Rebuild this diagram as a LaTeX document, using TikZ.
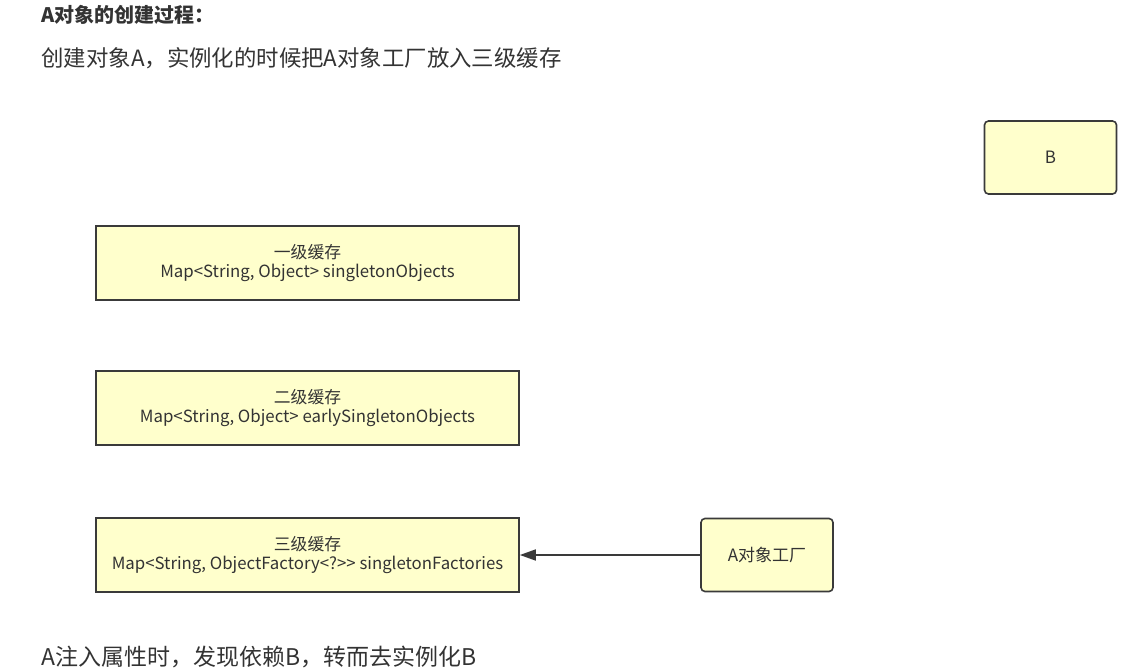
\documentclass[tikz,border=0pt]{standalone}
\usepackage{fontspec}
\setmainfont{Noto Sans CJK SC}
\usetikzlibrary{arrows.meta, positioning}
\definecolor{boxfill}{HTML}{FFFFCC}
\definecolor{boxline}{HTML}{3A3A3A}
\definecolor{txt}{HTML}{333333}
\begin{document}
\begin{tikzpicture}[x=1pt, y=-1pt, >={Triangle[length=16pt, width=11pt]},
  cache/.style={rectangle, draw=boxline, fill=boxfill, line width=1.6pt,
    minimum width=423pt, minimum height=74pt, align=center,
    font=\fontsize{16.8}{18}\selectfont, text=txt},
  obj/.style={rectangle, rounded corners=4pt, draw=boxline, fill=boxfill,
    line width=1.6pt, minimum width=132pt, minimum height=73pt,
    font=\fontsize{17}{18}\selectfont, text=txt},
  line/.style={anchor=west, text=txt, font=\fontsize{22.4}{26}\selectfont}]
  \useasboundingbox (0,0) rectangle (1130,669);

  % texts
  \node[line, font=\fontsize{20}{22}\selectfont\bfseries] (title) at (38,15) {A对象的创建过程：};
  \node[line] (step1) at (38,58) {创建对象A，实例化的时候把A对象工厂放入三级缓存};
  \node[line, font=\fontsize{23}{26}\selectfont] (step2) at (38,657) {A注入属性时，发现依赖B，转而去实例化B};

  % caches
  \node[cache] (l1) at (307.5,263) {{\strut}一级缓存\\Map<String, Object> singletonObjects};
  \node[cache] (l2) at (307.5,408) {{\strut}二级缓存\\Map<String, Object> earlySingletonObjects};
  \node[cache] (l3) at (307.5,555) {{\strut}三级缓存\\Map<String, ObjectFactory<?{>}{>} singletonFactories};

  % objects
  \node[obj] (fac) at (767,555) {A对象工厂};
  \node[obj] (b) at (1050.5,157.5) {B};

  \draw[->, line width=1.6pt, draw=boxline] (fac.west) -- (l3.east);
\end{tikzpicture}
\end{document}
